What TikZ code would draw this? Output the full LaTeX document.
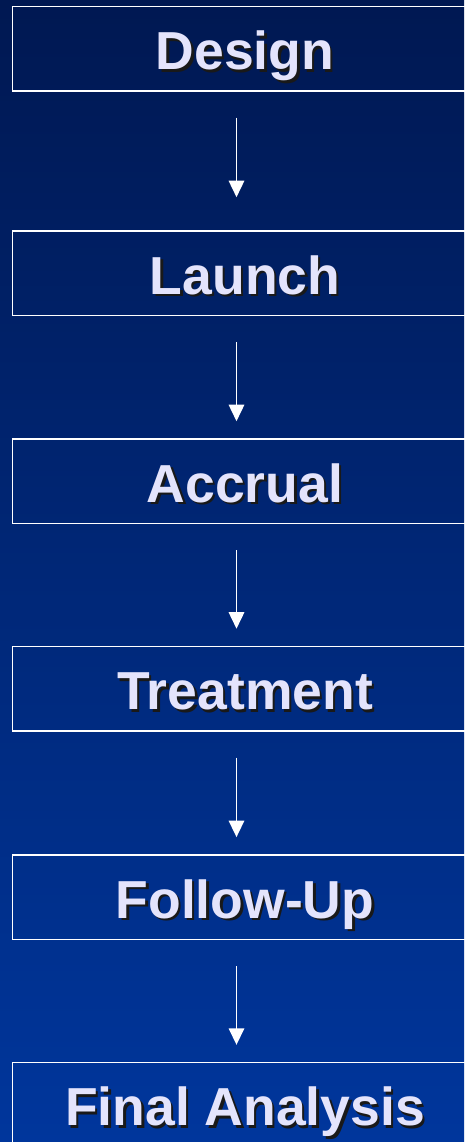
\documentclass[tikz,border=0pt]{standalone}
\usepackage{fontspec}
\setmainfont{Liberation Sans}
\usetikzlibrary{arrows.meta}
\definecolor{bgtop}{RGB}{0,24,82}
\definecolor{bgbot}{RGB}{0,54,156}
\definecolor{labelc}{RGB}{228,228,252}
\newcommand{\shadowtext}[1]{\rlap{\hspace{2.4pt}\raisebox{-2.4pt}[0pt][0pt]{\color{black!90}#1}}{\color{labelc}#1}}
\tikzset{
  stagebox/.style={draw=white, line width=1.5pt, rectangle, minimum width=465pt,
    minimum height=84.5pt, inner sep=0pt, text height=42pt, text depth=0pt,
    font=\fontsize{53.5}{60}\selectfont\bfseries},
  flowarrow/.style={draw=white, line width=1.6pt, -{Triangle[width=15.5pt,length=16.5pt]},
    shorten <=26pt, shorten >=17pt}
}
\begin{document}
\begin{tikzpicture}[x=1pt,y=-1pt]
\useasboundingbox (0,0) rectangle (464,1142);
\fill[top color=bgtop, bottom color=bgbot] (0,0) rectangle (464,1142);
\node[stagebox] (d1) at (245,48.75) {\shadowtext{Design}};
\node[stagebox] (d2) at (245,273.2) {\shadowtext{Launch}};
\node[stagebox] (d3) at (245,481.2) {\shadowtext{Accrual}};
\node[stagebox] (d4) at (245,688.7) {\shadowtext{Treatment}};
\node[stagebox] (d5) at (245,897.1) {\shadowtext{Follow-Up}};
\node[stagebox] (d6) at (245,1104.8) {\shadowtext{Final Analysis}};
\draw[flowarrow, shorten >=33pt] ([xshift=-8.5pt]d1.south) -- ([xshift=-8.5pt]d2.north);
\draw[flowarrow] ([xshift=-8.5pt]d2.south) -- ([xshift=-8.5pt]d3.north);
\draw[flowarrow] ([xshift=-8.5pt]d3.south) -- ([xshift=-8.5pt]d4.north);
\draw[flowarrow] ([xshift=-8.5pt]d4.south) -- ([xshift=-8.5pt]d5.north);
\draw[flowarrow] ([xshift=-8.5pt]d5.south) -- ([xshift=-8.5pt]d6.north);
\end{tikzpicture}
\end{document}
